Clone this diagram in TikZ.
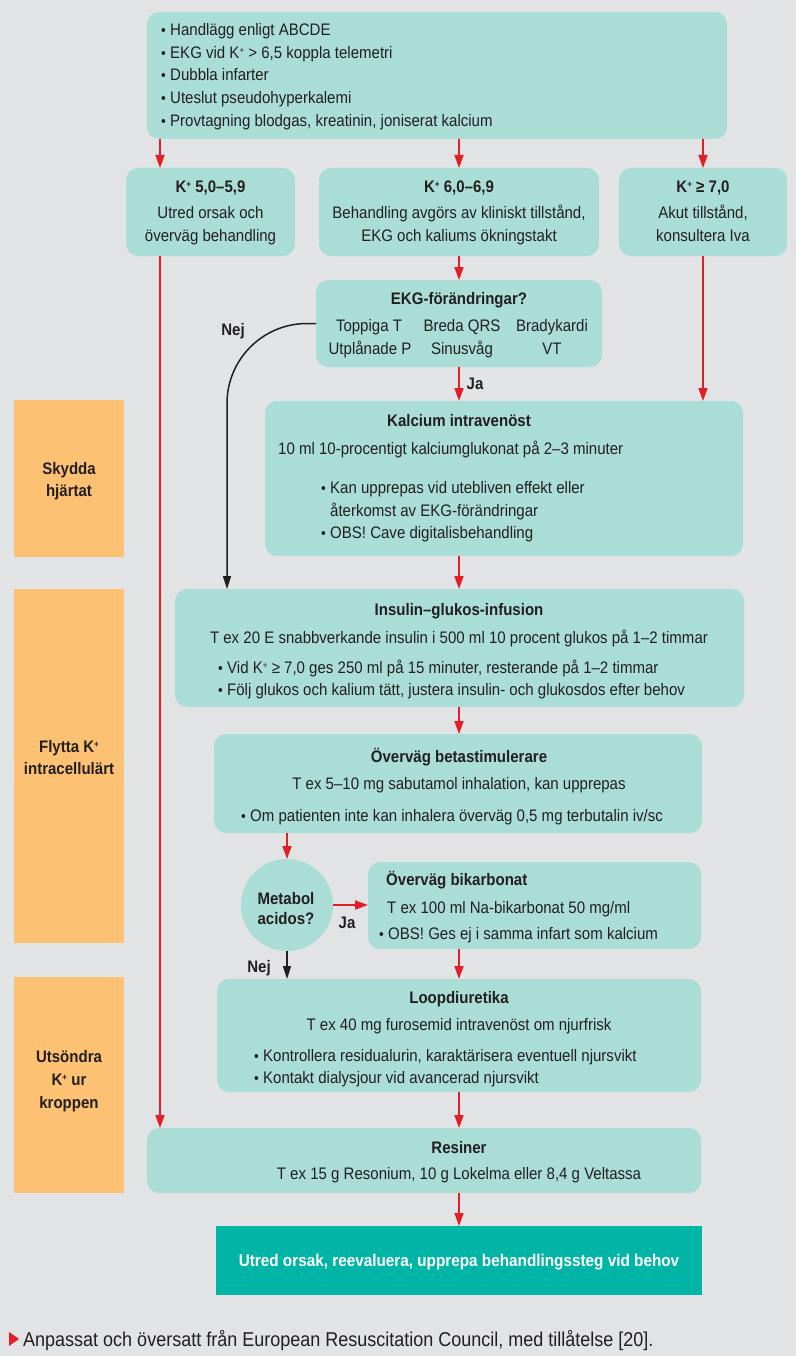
\documentclass[tikz,border=0pt]{standalone}
\usepackage{fontspec}
\setmainfont{Liberation Sans}[FakeStretch=0.9]
\usetikzlibrary{arrows.meta}
\definecolor{bg}{RGB}{225,227,229}
\definecolor{mint}{RGB}{170,221,214}
\definecolor{orng}{RGB}{253,193,116}
\definecolor{redc}{RGB}{226,30,38}
\definecolor{teal}{RGB}{0,180,166}
\definecolor{ink}{RGB}{35,31,32}
\newcommand{\bul}{\makebox[9pt][l]{\raisebox{0pt}{\fontsize{15}{15}\selectfont •}}}
\newcommand{\Kp}{K\raisebox{5pt}{\fontsize{9}{9}\selectfont +}}
\begin{document}
\begin{tikzpicture}[x=1pt,y=-1pt,
  every node/.style={text=ink},
  box/.style={fill=mint,draw=none,rounded corners=12,inner sep=0,outer sep=0,anchor=north west},
  side/.style={fill=orng,draw=none,inner sep=0,outer sep=0,anchor=north west},
  txt/.style={inner sep=0,font=\fontsize{16.7}{20}\selectfont},
  ttl/.style={inner sep=0,font=\bfseries\fontsize{16.7}{20}\selectfont},
  redarr/.style={draw=redc,line width=1.8pt,-{Triangle[length=13pt,width=9pt]}},
  blkarr/.style={draw=ink,line width=1.5pt,-{Triangle[length=13pt,width=8pt]}}]
\useasboundingbox[fill=bg] (0,0) rectangle (796,1356);
% helper x positions
\coordinate (c160) at (160,0);
\coordinate (c227) at (227,0);
\coordinate (c459) at (459,0);
\coordinate (c703) at (703,0);
% boxes
\node[box,minimum width=580,minimum height=127] (top) at (147,12) {};
\node[box,minimum width=169,minimum height=88] (k1) at (126,168) {};
\node[box,minimum width=280,minimum height=88] (k2) at (319,168) {};
\node[box,minimum width=168,minimum height=88] (k3) at (619,168) {};
\node[box,minimum width=286,minimum height=87] (ekg) at (316,280) {};
\node[box,minimum width=478,minimum height=155] (kalc) at (265,401) {};
\node[box,minimum width=569,minimum height=118] (ins) at (175,589) {};
\node[box,minimum width=488,minimum height=99] (beta) at (214,734) {};
\node[circle,fill=mint,draw=none,minimum size=92,inner sep=0,outer sep=0] (circ) at (287,905) {};
\node[box,minimum width=333,minimum height=87] (bik) at (368,862) {};
\node[box,minimum width=484,minimum height=113] (loop) at (217,979) {};
\node[box,minimum width=554,minimum height=65] (res) at (147,1128) {};
\node[fill=teal,draw=none,inner sep=0,outer sep=0,anchor=north west,minimum width=486,minimum height=69] (fin) at (216,1226) {};
\node[side,minimum width=110,minimum height=157] (sk) at (14,400) {};
\node[side,minimum width=110,minimum height=354] (fl) at (14,589) {};
\node[side,minimum width=110,minimum height=216] (ut) at (14,977) {};
% side labels
\node[ttl,anchor=base] (sk1) at (69,474) {Skydda};
\node[ttl,anchor=base] (sk2) at (69,496) {hjärtat};
\node[ttl,anchor=base] (fl1) at (69,752) {Flytta \Kp};
\node[ttl,anchor=base] (fl2) at (69,774) {intracellulärt};
\node[ttl,anchor=base] (ut1) at (69,1062) {Utsöndra};
\node[ttl,anchor=base] (ut2) at (69,1085) {\Kp{} ur};
\node[ttl,anchor=base] (ut3) at (69,1108) {kroppen};
% top box text
\node[txt,anchor=base west] (t1) at (161,36) {\bul Handlägg enligt ABCDE};
\node[txt,anchor=base west] (t2) at (161,59) {\bul EKG vid \Kp{} > 6,5 koppla telemetri};
\node[txt,anchor=base west] (t3) at (161,81) {\bul Dubbla infarter};
\node[txt,anchor=base west] (t4) at (161,104) {\bul Uteslut pseudohyperkalemi};
\node[txt,anchor=base west] (t5) at (161,127) {\bul Provtagning blodgas, kreatinin, joniserat kalcium};
% K boxes
\node[ttl,anchor=base] (k1a) at (210.5,193) {\Kp{} 5,0–5,9};
\node[txt,anchor=base] (k1b) at (210.5,219) {Utred orsak och};
\node[txt,anchor=base] (k1c) at (210.5,242) {överväg behandling};
\node[ttl,anchor=base] (k2a) at (459,193) {\Kp{} 6,0–6,9};
\node[txt,anchor=base] (k2b) at (459,219) {Behandling avgörs av kliniskt tillstånd,};
\node[txt,anchor=base] (k2c) at (459,242) {EKG och kaliums ökningstakt};
\node[ttl,anchor=base] (k3a) at (703,193) {\Kp{} ≥ 7,0};
\node[txt,anchor=base] (k3b) at (703,219) {Akut tillstånd,};
\node[txt,anchor=base] (k3c) at (703,242) {konsultera Iva};
% EKG box
\node[ttl,anchor=base] (e0) at (459,304) {EKG-förändringar?};
\node[txt,anchor=base] (e1) at (369,331) {Toppiga T};
\node[txt,anchor=base] (e2) at (462,331) {Breda QRS};
\node[txt,anchor=base] (e3) at (552,331) {Bradykardi};
\node[txt,anchor=base] (e4) at (370,354) {Utplånade P};
\node[txt,anchor=base] (e5) at (462,354) {Sinusvåg};
\node[txt,anchor=base] (e6) at (552,354) {VT};
\node[ttl,anchor=base] (nej1) at (233,335) {Nej};
\node[ttl,anchor=base] (ja1) at (475,389) {Ja};
% Kalcium
\node[ttl,anchor=base] (ka0) at (459,426) {Kalcium intravenöst};
\node[txt,anchor=base west] (ka1) at (278,454) {10 ml 10-procentigt kalciumglukonat på 2–3 minuter};
\node[txt,anchor=base west] (ka2) at (321,493) {\bul Kan upprepas vid utebliven effekt eller};
\node[txt,anchor=base west] (ka3) at (330,516) {återkomst av EKG-förändringar};
\node[txt,anchor=base west] (ka4) at (321,538) {\bul OBS! Cave digitalisbehandling};
% Insulin
\node[ttl,anchor=base] (in0) at (459,615) {Insulin–glukos-infusion};
\node[txt,anchor=base] (in1) at (459,643) {T ex 20 E snabbverkande insulin i 500 ml 10 procent glukos på 1–2 timmar};
\node[txt,anchor=base west] (in2) at (218,673) {\bul Vid \Kp{} ≥ 7,0 ges 250 ml på 15 minuter, resterande på 1–2 timmar};
\node[txt,anchor=base west] (in3) at (218,695) {\bul Följ glukos och kalium tätt, justera insulin- och glukosdos efter behov};
% Beta
\node[ttl,anchor=base] (be0) at (459,762) {Överväg betastimulerare};
\node[txt,anchor=base] (be1) at (459,789) {T ex 5–10 mg sabutamol inhalation, kan upprepas};
\node[txt,anchor=base west] (be2) at (241,821) {\bul Om patienten inte kan inhalera överväg 0,5 mg terbutalin iv/sc};
% circle
\node[ttl,anchor=base] (ci1) at (286,904) {Metabol};
\node[ttl,anchor=base] (ci2) at (286,924) {acidos?};
\node[ttl,anchor=base] (ja2) at (347,928) {Ja};
\node[ttl,anchor=base] (nej2) at (259,972) {Nej};
% Bikarbonat
\node[ttl,anchor=base west] (bi0) at (386,885) {Överväg bikarbonat};
\node[txt,anchor=base west] (bi1) at (387,913) {T ex 100 ml Na-bikarbonat 50 mg/ml};
\node[txt,anchor=base west] (bi2) at (379,939) {\bul OBS! Ges ej i samma infart som kalcium};
% Loop
\node[ttl,anchor=base] (lo0) at (459,1003) {Loopdiuretika};
\node[txt,anchor=base] (lo1) at (459,1030) {T ex 40 mg furosemid intravenöst om njurfrisk};
\node[txt,anchor=base west] (lo2) at (254,1061) {\bul Kontrollera residualurin, karaktärisera eventuell njursvikt};
\node[txt,anchor=base west] (lo3) at (254,1083) {\bul Kontakt dialysjour vid avancerad njursvikt};
% Resiner
\node[ttl,anchor=base] (re0) at (459,1153) {Resiner};
\node[txt,anchor=base] (re1) at (459,1179) {T ex 15 g Resonium, 10 g Lokelma eller 8,4 g Veltassa};
% final
\node[ttl,anchor=base,text=white,font=\bfseries\fontsize{17}{20}\selectfont] (fi0) at (459,1266) {Utred orsak, reevaluera, upprepa behandlingssteg vid behov};
% footer
\fill[redc] (9,1332) -- (19,1339) -- (9,1346) -- cycle;
\node[txt,anchor=base west,font=\fontsize{20}{22}\selectfont] (foot) at (23,1346) {Anpassat och översatt från European Resuscitation Council, med tillåtelse [20].};
% connectors
\draw[redarr] (top.south -| c160) -- (k1.north -| c160);
\draw[redarr] (top.south -| c459) -- (k2.north -| c459);
\draw[redarr] (top.south -| c703) -- (k3.north -| c703);
\draw[redarr] (k1.south -| c160) -- (res.north -| c160);
\draw[redarr] (k2.south -| c459) -- (ekg.north -| c459);
\draw[redarr] (k3.south -| c703) -- (kalc.north -| c703);
\draw[redarr] (ekg.south -| c459) -- (kalc.north -| c459);
\draw[blkarr,rounded corners=80] (ekg.west) -| (ins.north -| c227);
\draw[redarr] (kalc.south -| c459) -- (ins.north -| c459);
\draw[redarr] (ins.south -| c459) -- (beta.north -| c459);
\draw[redarr] (beta.south -| circ) -- (circ.north);
\draw[redarr] (circ.east) -- (circ.east -| bik.west);
\draw[blkarr] (circ.south) -- (loop.north -| circ);
\draw[redarr] (bik.south -| c459) -- (loop.north -| c459);
\draw[redarr] (loop.south -| c459) -- (res.north -| c459);
\draw[redarr] (res.south -| c459) -- (fin.north -| c459);
\end{tikzpicture}
\end{document}
